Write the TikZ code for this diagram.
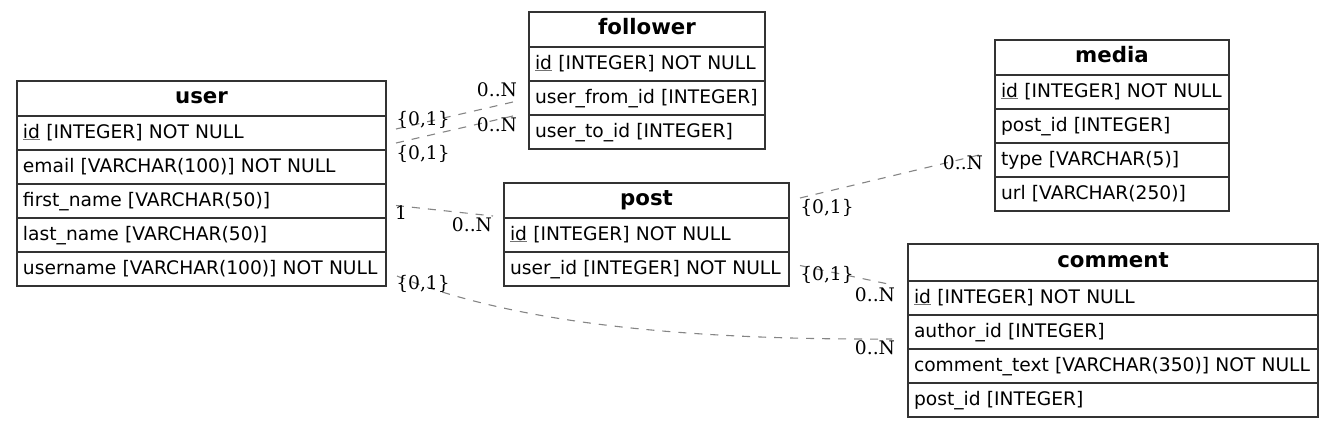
\documentclass[tikz,border=0pt]{standalone}
\usepackage{fontspec}
\setmainfont{DejaVu Sans}
\newfontfamily\cardfont{DejaVu Serif}
\usetikzlibrary{calc,positioning}

% primary key: black text, grey underline
\newcommand\pkey[1]{{\color{black!55}\underline{\color{black}#1}}}

\tikzset{
  tblhead/.style={draw=black!80, line width=1.1pt, anchor=north west, outer sep=0pt,
    inner xsep=6pt, inner ysep=0pt, minimum height=35pt, text width=#1, align=center,
    font=\fontsize{21.3}{25}\selectfont\bfseries, text height=15pt, text depth=5pt},
  tblrow/.style={draw=black!80, line width=1.1pt, outer sep=0pt,
    inner xsep=6pt, inner ysep=0pt, minimum height=34pt, text width=#1, align=left,
    font=\fontsize{18.67}{22}\selectfont, text height=14pt, text depth=4pt},
  rel/.style={draw=black!48, line width=1.1pt, dash pattern=on 8pt off 8pt},
  card/.style={inner sep=0pt, font=\cardfont\fontsize{18.67}{22}\selectfont},
}

\begin{document}
\begin{tikzpicture}[x=1pt,y=-1pt]
    \useasboundingbox (0,0) rectangle (1333,426);
    % Top left corners of the tables
    \coordinate (U0) at (17,81);   % user
    \coordinate (F0) at (529,12);  % follower
    \coordinate (P0) at (504,183); % post
    \coordinate (M0) at (995,40);  % media
    \coordinate (C0) at (908,244); % comment

    % user
    \node[tblhead=357pt] (user-h) at (U0) {user};
    \node[tblrow=357pt, below=0pt of user-h] (user-id) {\pkey{id} [INTEGER] NOT NULL};
    \node[tblrow=357pt, below=0pt of user-id] (user-email) {email [VARCHAR(100)] NOT NULL};
    \node[tblrow=357pt, below=0pt of user-email] (user-first) {first\_name [VARCHAR(50)]};
    \node[tblrow=357pt, below=0pt of user-first] (user-last) {last\_name [VARCHAR(50)]};
    \node[tblrow=357pt, below=0pt of user-last] (user-uname) {username [VARCHAR(100)] NOT NULL};

    % follower
    \node[tblhead=224pt] (follower-h) at (F0) {follower};
    \node[tblrow=224pt, below=0pt of follower-h] (follower-id) {\pkey{id} [INTEGER] NOT NULL};
    \node[tblrow=224pt, below=0pt of follower-id] (follower-from) {user\_from\_id [INTEGER]};
    \node[tblrow=224pt, below=0pt of follower-from] (follower-to) {user\_to\_id [INTEGER]};

    % post
    \node[tblhead=273pt] (post-h) at (P0) {post};
    \node[tblrow=273pt, below=0pt of post-h] (post-id) {\pkey{id} [INTEGER] NOT NULL};
    \node[tblrow=273pt, below=0pt of post-id] (post-uid) {user\_id [INTEGER] NOT NULL};

    % media
    \node[tblhead=222pt] (media-h) at (M0) {media};
    \node[tblrow=222pt, below=0pt of media-h] (media-id) {\pkey{id} [INTEGER] NOT NULL};
    \node[tblrow=222pt, below=0pt of media-id] (media-pid) {post\_id [INTEGER]};
    \node[tblrow=222pt, below=0pt of media-pid] (media-type) {type [VARCHAR(5)]};
    \node[tblrow=222pt, below=0pt of media-type] (media-url) {url [VARCHAR(250)]};

    % comment
    \node[tblhead=398pt, minimum height=37pt] (comment-h) at (C0) {comment};
    \node[tblrow=398pt, below=0pt of comment-h] (comment-id) {\pkey{id} [INTEGER] NOT NULL};
    \node[tblrow=398pt, below=0pt of comment-id] (comment-author) {author\_id [INTEGER]};
    \node[tblrow=398pt, below=0pt of comment-author] (comment-text) {comment\_text [VARCHAR(350)] NOT NULL};
    \node[tblrow=398pt, below=0pt of comment-text] (comment-pid) {post\_id [INTEGER]};

    % relations
    \draw[rel] ($(user-id.east)+(10,-4)$) -- ($(follower-from.west)+(-16,4)$);
    \draw[rel] ($(user-id.south east)+(10,-7)$) -- ($(follower-from.south west)+(-16,1)$);
    \draw[rel] ($(user-first.east)+(10,4.5)$) -- ($(post-h.south west)+(-11,-2)$);
    \draw[rel] ($(user-uname.east)+(11,7)$) .. controls +(123,50) and +(-192,1) .. ($(comment-author.west)+(-16,7)$);
    \draw[rel] ($(post-h.east)+(11,-2.5)$) -- ($(media-type.west)+(-16,-5)$);
    \draw[rel] ($(post-uid.east)+(11,-3.5)$) -- ($(comment-h.south west)+(-15,4)$);

    % cardinalities
    \node[card] (uf-t) at (423,120) {\{0,1\}};
    \node[card] (uf-h) at (497,90) {0..N};
    \node[card] (ut-t) at (423,154) {\{0,1\}};
    \node[card] (ut-h) at (497,125) {0..N};
    \node[card] (up-t) at (401,213) {1};
    \node[card] (up-h) at (472,225) {0..N};
    \node[card] (uc-t) at (423,284) {\{0,1\}};
    \node[card] (uc-h) at (875,348) {0..N};
    \node[card] (pm-t) at (827,208) {\{0,1\}};
    \node[card] (pm-h) at (963,163) {0..N};
    \node[card] (pc-t) at (827,275) {\{0,1\}};
    \node[card] (pc-h) at (875,295) {0..N};
\end{tikzpicture}
\end{document}
